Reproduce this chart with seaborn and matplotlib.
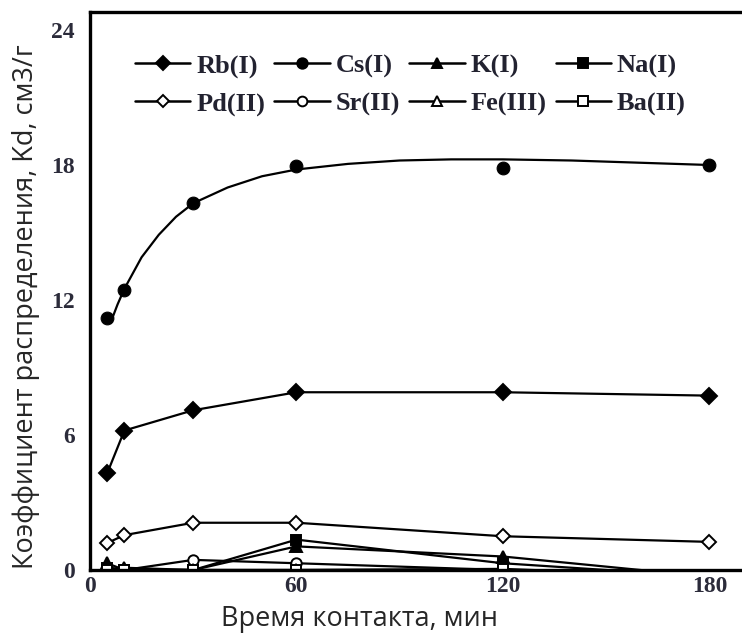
import matplotlib
matplotlib.use("Agg")
import matplotlib.pyplot as plt
from matplotlib.lines import Line2D
from matplotlib.ticker import MultipleLocator
import seaborn as sns

sns.set_style("white")
plt.rcParams['font.family'] = ['DejaVu Sans']

# ---- data ----
time_min = [5, 10, 30, 60, 120, 180]
rb = [4.3, 6.2, 7.1, 7.9, 7.9, 7.75]
cs = [11.2, 12.45, 16.3, 17.95, 17.85, 18.0]
k = [0.3, 0.0, 0.0, 1.05, 0.6, -0.3]
na = [0.1, 0.0, 0.0, 1.35, 0.3, -0.3]
pd_ = [1.2, 1.55, 2.1, 2.1, 1.5, 1.25]
sr = [0.05, 0.0, 0.45, 0.3, 0.0, -0.3]
fe = [0.05, 0.1, 0.0, 0.0, 0.0, -0.3]
ba = [0.0, 0.0, 0.0, 0.0, 0.05, -0.3]

# Cs fitted curve
cs_fit_t = [6, 8, 10, 15, 20, 25, 30, 40, 50, 60, 75, 90, 105, 120, 140, 160, 180]
cs_fit_v = [11.0, 11.8, 12.5, 13.9, 14.9, 15.7, 16.3, 17.0, 17.5, 17.8, 18.05, 18.2,
            18.25, 18.25, 18.2, 18.1, 18.0]

x_ticks = [0, 60, 120, 180]
y_ticks = [0, 6, 12, 18, 24]

fig = plt.figure(figsize=(7.42, 6.41), dpi=100)
ax = fig.add_axes([90 / 742, 71 / 641, 652 / 742, 558 / 641])

series = [
    ("Rb(I)", rb, "D", "black", 8),
    ("K(I)", k, "^", "black", 8),
    ("Na(I)", na, "s", "black", 7.5),
    ("Pd(II)", pd_, "D", "white", 7),
    ("Sr(II)", sr, "o", "white", 7.5),
    ("Fe(III)", fe, "^", "white", 8),
    ("Ba(II)", ba, "s", "white", 7),
]
for name, vals, m, fc, ms in series:
    sns.lineplot(x=time_min, y=vals, ax=ax, color="black", lw=1.6, marker=m,
                 markersize=ms, markerfacecolor=fc, markeredgecolor="black",
                 markeredgewidth=1.4, legend=False)

sns.lineplot(x=cs_fit_t, y=cs_fit_v, ax=ax, color="black", lw=1.6, legend=False)
sns.scatterplot(x=time_min, y=cs, ax=ax, color="black", s=85, marker="o",
                edgecolor="black", legend=False, zorder=5)

ax.set_xlim(0, 189.5)
ax.set_ylim(0, 24.8)
ax.set_xticks(x_ticks)
ax.set_yticks(y_ticks)
ax.yaxis.set_minor_locator(MultipleLocator(2))
ax.tick_params(axis="both", which="both", direction="in", length=7, width=2,
               color="black")
for lab in ax.get_xticklabels() + ax.get_yticklabels():
    lab.set_fontfamily("Liberation Serif")
    lab.set_fontweight("bold")
    lab.set_fontsize(17)
    lab.set_color("#2b2b3a")
ax.tick_params(axis="x", pad=4)
ax.tick_params(axis="y", pad=11)

for side in ["left", "top", "bottom"]:
    ax.spines[side].set_linewidth(2.4)
    ax.spines[side].set_color("black")
ax.spines["right"].set_visible(False)

ax.set_xlabel("Время контакта, мин", fontsize=19.5, fontfamily="Open Sans")
ax.set_ylabel("Коэффициент распределения, Kd, см3/г", fontsize=19.5,
              fontfamily="Open Sans")
ax.xaxis.set_label_coords(0.413, -0.062)
ax.yaxis.set_label_coords(-0.077, 0.471)

# legend (row-major display order via column-major handle list)
legend_spec = [
    ("Rb(I)", "D", "black", 7),
    ("Pd(II)", "D", "white", 6.5),
    ("Cs(I)", "o", "black", 7.5),
    ("Sr(II)", "o", "white", 7),
    ("K(I)", "^", "black", 7.5),
    ("Fe(III)", "^", "white", 7.5),
    ("Na(I)", "s", "black", 7),
    ("Ba(II)", "s", "white", 6.5),
]
handles = [Line2D([0], [0], color="black", lw=1.8, marker=m, markersize=ms,
                  markerfacecolor=fc, markeredgecolor="black", markeredgewidth=1.4,
                  label=name) for name, m, fc, ms in legend_spec]
leg = ax.legend(handles=handles, ncol=4, loc="upper left",
                bbox_to_anchor=(0.069, 0.925), frameon=False,
                prop={"family": "Liberation Serif", "weight": "bold", "size": 19},
                handlelength=2.1, handletextpad=0.22, columnspacing=0.35,
                labelspacing=0.55, borderaxespad=0, borderpad=0)
for t in leg.get_texts():
    t.set_color("#222230")

fig.savefig("out.png", dpi=100)
